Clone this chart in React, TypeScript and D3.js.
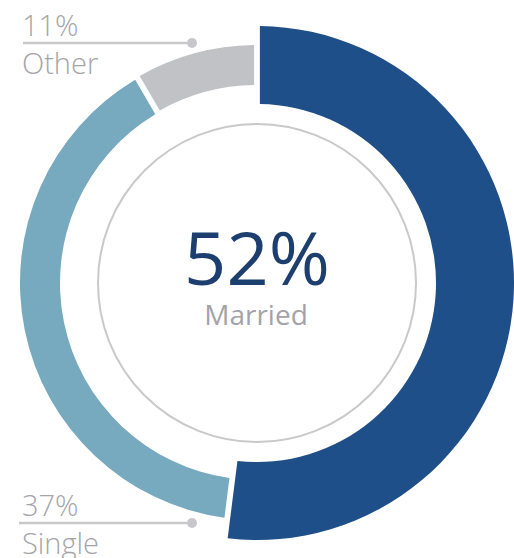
import React, { useEffect, useRef } from "react";
import * as d3 from "d3";

// categories and values (labels as printed on the chart)
const categories = ["Married", "Single", "Other"];
const percents = [52, 37, 11];
// share of the ring each slice sweeps
const sweep = [52, 39.6, 8.4];
const colors = ["#1f4f89", "#77a9bf", "#c1c2c6"];

const W = 514;
const H = 558;

const App = () => {
  const ref = useRef<SVGSVGElement>(null);

  useEffect(() => {
    const svg = d3.select(ref.current);
    svg.selectAll("*").remove();

    const cx = 257, cy = 283;
    const g = svg.append("g").attr("transform", "translate(" + cx + "," + cy + ")");

    const pie = d3.pie<number>().sort(null).value((d) => d);
    const arcs = pie(sweep);

    // married slice is drawn thicker and bigger than the others
    const radii = [
      { inner: 179, outer: 257 },
      { inner: 197, outer: 237 },
      { inner: 198, outer: 238 },
    ];

    arcs.forEach((a, i) => {
      const arc = d3.arc<d3.PieArcDatum<number>>()
        .innerRadius(radii[i].inner)
        .outerRadius(radii[i].outer)
        .padAngle(0.055)
        .padRadius(105);
      g.append("path")
        .attr("d", arc(a) as string)
        .attr("fill", colors[i]);
    });

    // thin inner circle
    g.append("circle")
      .attr("r", 159)
      .attr("fill", "none")
      .attr("stroke", "#c9c9cb")
      .attr("stroke-width", 2);

    const font = "'Open Sans', 'Noto Sans', sans-serif";

    // center label
    g.append("text")
      .attr("x", 0)
      .attr("y", 2)
      .attr("text-anchor", "middle")
      .style("font-family", font)
      .style("font-size", "74px")
      .style("fill", "#1d3f6f")
      .text(percents[0] + "%");
    g.append("text")
      .attr("x", -1)
      .attr("y", 42)
      .attr("text-anchor", "middle")
      .style("font-family", font)
      .style("font-size", "28px")
      .style("fill", "#a3a3a7")
      .text(categories[0]);

    // side labels with leader lines
    const labels = [
      { i: 2, y: 43, x0: 23 },
      { i: 1, y: 523, x0: 19 },
    ];
    labels.forEach((l) => {
      svg.append("line")
        .attr("x1", l.x0)
        .attr("x2", 192)
        .attr("y1", l.y)
        .attr("y2", l.y)
        .attr("stroke", "#c8c8cb")
        .attr("stroke-width", 2.5);
      svg.append("circle")
        .attr("cx", 192)
        .attr("cy", l.y)
        .attr("r", 5)
        .attr("fill", "#c8c8cb");
      svg.append("text")
        .attr("x", 22)
        .attr("y", l.y - 7)
        .style("font-family", font)
        .style("font-size", "29px")
        .style("font-weight", 300)
        .style("fill", "#a5a5a9")
        .text(percents[l.i] + "%");
      svg.append("text")
        .attr("x", 22)
        .attr("y", l.y + 31)
        .style("font-family", font)
        .style("font-size", "29px")
        .style("font-weight", 300)
        .style("fill", "#a5a5a9")
        .text(categories[l.i]);
    });
  }, []);

  return (
    <svg
      ref={ref}
      width={W}
      height={H}
      style={{ position: "absolute", left: 0, top: 0, background: "#fff" }}
    ></svg>
  );
};

export default App;
